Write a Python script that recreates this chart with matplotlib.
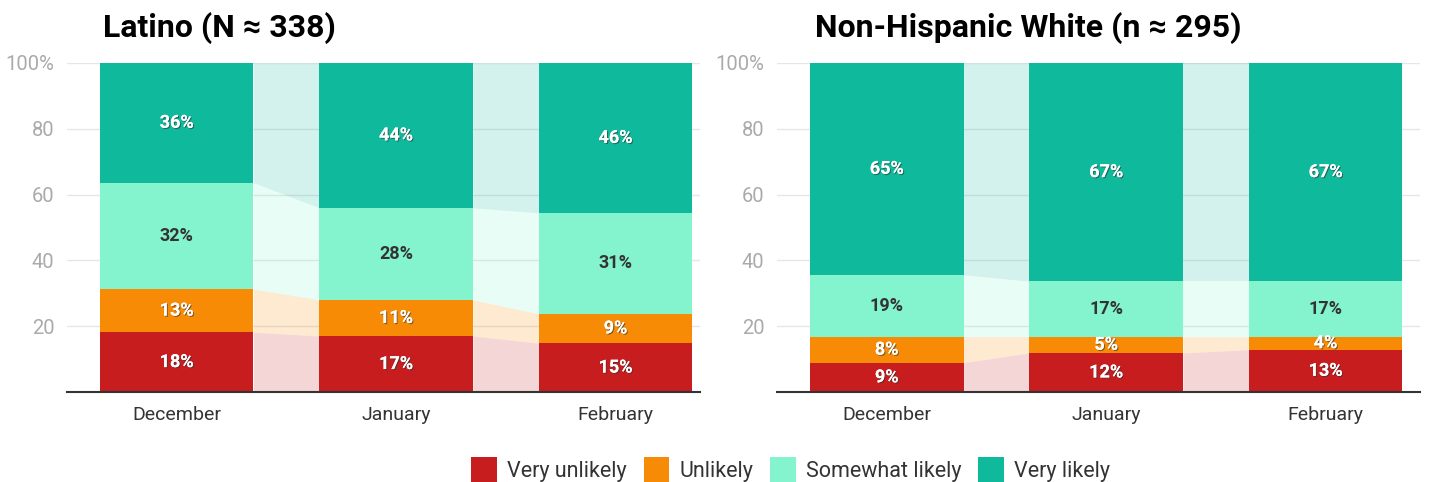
import numpy as np
import matplotlib.pyplot as plt
import matplotlib.patheffects as pe
from matplotlib.patches import Patch

plt.rcParams['font.family'] = ['Roboto', 'DejaVu Sans']

months = ["December", "January", "February"]
series = ["Very unlikely", "Unlikely", "Somewhat likely", "Very likely"]
colors = ["#c81d1f", "#f78b05", "#84f4cf", "#0fb99c"]
label_dark = [False, False, True, False]

latino_title = "Latino (N \u2248 338)"
latino = {
    "Very unlikely": [18, 17, 15],
    "Unlikely": [13, 11, 9],
    "Somewhat likely": [32, 28, 31],
    "Very likely": [36, 44, 46],
}
white_title = "Non-Hispanic White (n \u2248 295)"
white = {
    "Very unlikely": [9, 12, 13],
    "Unlikely": [8, 5, 4],
    "Somewhat likely": [19, 17, 17],
    "Very likely": [65, 67, 67],
}

fig = plt.figure(figsize=(14.4, 4.82), dpi=100)
ax1 = fig.add_axes([0.0465, 0.1867, 0.4396, 0.6826])
ax2 = fig.add_axes([0.5396, 0.1867, 0.4465, 0.6826])

width = 0.7
shadow = [pe.withSimplePatchShadow(offset=(0.8, -0.8), shadow_rgbFace='#333333', alpha=0.6), pe.Normal()]


def draw(ax, data, xlim):
    vals = np.array([data[s] for s in series], dtype=float)
    pct = vals / vals.sum(axis=0) * 100
    bottoms = np.vstack([np.zeros(len(months)), np.cumsum(pct, axis=0)[:-1]])
    x = np.arange(len(months))
    for i, s in enumerate(series):
        ax.bar(x, pct[i], width, bottom=bottoms[i], color=colors[i], zorder=3)
        # connecting bands between bars
        for j in range(len(months) - 1):
            xs = [x[j] + width / 2, x[j + 1] - width / 2]
            ax.fill_between(xs, [bottoms[i][j], bottoms[i][j + 1]],
                            [bottoms[i][j] + pct[i][j], bottoms[i][j + 1] + pct[i][j + 1]],
                            color=colors[i], alpha=0.18, lw=0, zorder=2)
        for j in range(len(months)):
            yc = bottoms[i][j] + pct[i][j] / 2
            if label_dark[i]:
                ax.text(x[j], yc, "%d%%" % vals[i][j], ha='center', va='center',
                        fontsize=13, fontweight='bold', color='#333333', zorder=4)
            else:
                ax.text(x[j], yc, "%d%%" % vals[i][j], ha='center', va='center',
                        fontsize=13, fontweight='bold', color='white', zorder=4,
                        path_effects=shadow)
    ax.set_xlim(xlim)
    ax.set_ylim(0, 100)
    ax.set_xticks(x)
    ax.set_xticklabels(months, fontsize=14, color='#333333')
    ax.set_yticks([20, 40, 60, 80, 100])
    ax.set_yticklabels(["20", "40", "60", "80", "100%"], fontsize=14.5, color='#aaaaaa')
    ax.tick_params(axis='y', length=0, pad=9)
    ax.tick_params(axis='x', length=0, pad=10)
    ax.grid(True, axis='y', color='#e6e6e6', lw=1, zorder=0)
    for sp in ['top', 'right', 'left']:
        ax.spines[sp].set_visible(False)
    ax.spines['bottom'].set_color('#333333')
    ax.spines['bottom'].set_linewidth(1.5)
    ax.spines['bottom'].set_zorder(5)


draw(ax1, latino, (-0.5, 2.385))
draw(ax2, white, (-0.5, 2.43))

fig.text(0.0715, 0.942, latino_title, fontsize=23, fontweight='bold', ha='left', va='center')
fig.text(0.566, 0.942, white_title, fontsize=23, fontweight='bold', ha='left', va='center')

handles = [Patch(facecolor=c, label=s) for c, s in zip(colors, series)]
fig.legend(handles=handles, loc='center', bbox_to_anchor=(0.549, 0.025), ncol=4, frameon=False,
           fontsize=15.5, handlelength=1.2, handleheight=1.5, handletextpad=0.45, columnspacing=0.8,
           labelcolor='#333333')

fig.savefig("out.png", dpi=100)
